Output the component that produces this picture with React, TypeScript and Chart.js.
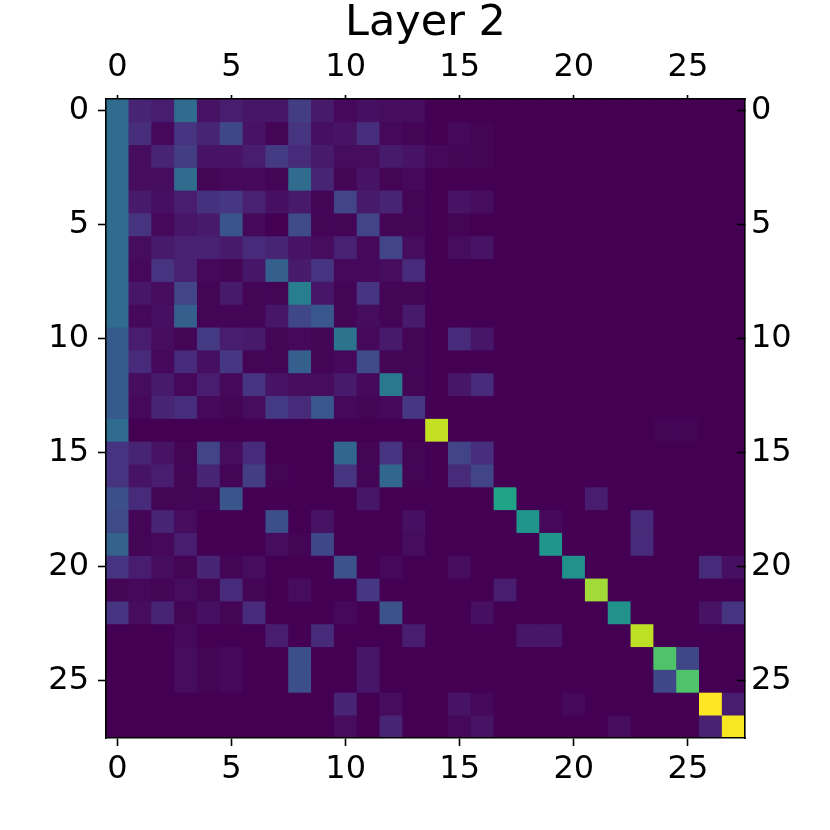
import React, { useEffect, useRef } from 'react';
import { Chart, registerables } from 'chart.js';

Chart.register(...registerables);

const titleText = 'Layer 2';
const tickValues = [0, 5, 10, 15, 20, 25];
const positions = Array.from({ length: 28 }, (_, i) => i);

// attention weights (normalised 0..1 colour position), one array per query row
const row00 = [0.35, 0.1, 0.08, 0.35, 0.05, 0.08, 0.06, 0.06, 0.18, 0.07, 0.02, 0.04, 0.03, 0.03, 0, 0, 0, 0, 0, 0, 0, 0, 0, 0, 0, 0, 0, 0];
const row01 = [0.35, 0.13, 0.02, 0.15, 0.1, 0.21, 0.05, 0.01, 0.15, 0.04, 0.05, 0.13, 0.02, 0.01, 0, 0.02, 0.01, 0, 0, 0, 0, 0, 0, 0, 0, 0, 0, 0];
const row02 = [0.35, 0.03, 0.1, 0.18, 0.05, 0.05, 0.08, 0.17, 0.12, 0.07, 0.03, 0.03, 0.07, 0.05, 0.02, 0.01, 0.01, 0, 0, 0, 0, 0, 0, 0, 0, 0, 0, 0];
const row03 = [0.35, 0.03, 0.03, 0.35, 0.01, 0.02, 0.02, 0.01, 0.35, 0.1, 0.01, 0.05, 0.01, 0.02, 0, 0, 0, 0, 0, 0, 0, 0, 0, 0, 0, 0, 0, 0];
const row04 = [0.35, 0.07, 0.04, 0.08, 0.14, 0.16, 0.09, 0.04, 0.07, 0.01, 0.2, 0.07, 0.1, 0.01, 0, 0.05, 0.03, 0, 0, 0, 0, 0, 0, 0, 0, 0, 0, 0];
const row05 = [0.35, 0.15, 0.02, 0.06, 0.07, 0.26, 0.02, 0, 0.22, 0.01, 0.01, 0.2, 0.01, 0.01, 0, 0.01, 0, 0, 0, 0, 0, 0, 0, 0, 0, 0, 0, 0];
const row06 = [0.35, 0.03, 0.07, 0.09, 0.09, 0.07, 0.12, 0.1, 0.05, 0.03, 0.09, 0.02, 0.2, 0.03, 0, 0.03, 0.05, 0, 0, 0, 0, 0, 0, 0, 0, 0, 0, 0];
const row07 = [0.35, 0.02, 0.15, 0.09, 0.02, 0.01, 0.06, 0.3, 0.07, 0.15, 0.02, 0.02, 0.03, 0.12, 0, 0, 0, 0, 0, 0, 0, 0, 0, 0, 0, 0, 0, 0];
const row08 = [0.35, 0.06, 0.03, 0.2, 0.01, 0.07, 0.01, 0.01, 0.42, 0.06, 0.01, 0.15, 0.01, 0.01, 0, 0, 0, 0, 0, 0, 0, 0, 0, 0, 0, 0, 0, 0];
const row09 = [0.35, 0.02, 0.04, 0.3, 0.01, 0.01, 0.01, 0.06, 0.21, 0.27, 0.01, 0.03, 0.01, 0.07, 0, 0, 0, 0, 0, 0, 0, 0, 0, 0, 0, 0, 0, 0];
const row10 = [0.28, 0.08, 0.03, 0.01, 0.17, 0.08, 0.07, 0.01, 0.02, 0.01, 0.38, 0.02, 0.07, 0.01, 0, 0.12, 0.06, 0, 0, 0, 0, 0, 0, 0, 0, 0, 0, 0];
const row11 = [0.28, 0.12, 0.02, 0.12, 0.04, 0.16, 0.01, 0.01, 0.3, 0.01, 0.02, 0.22, 0.01, 0.01, 0, 0, 0, 0, 0, 0, 0, 0, 0, 0, 0, 0, 0, 0];
const row12 = [0.28, 0.03, 0.07, 0.02, 0.08, 0.02, 0.15, 0.05, 0.03, 0.03, 0.07, 0.02, 0.4, 0.01, 0, 0.06, 0.12, 0, 0, 0, 0, 0, 0, 0, 0, 0, 0, 0];
const row13 = [0.28, 0.02, 0.1, 0.13, 0.02, 0.01, 0.03, 0.17, 0.12, 0.27, 0.02, 0.01, 0.02, 0.16, 0, 0, 0, 0, 0, 0, 0, 0, 0, 0, 0, 0, 0, 0];
const row14 = [0.35, 0, 0, 0, 0, 0, 0, 0, 0, 0, 0, 0, 0, 0, 0.91, 0, 0, 0, 0, 0, 0, 0, 0, 0, 0.01, 0.01, 0, 0];
const row15 = [0.15, 0.1, 0.05, 0.01, 0.2, 0.03, 0.12, 0, 0, 0, 0.33, 0.01, 0.15, 0.01, 0, 0.2, 0.13, 0, 0, 0, 0, 0, 0, 0, 0, 0, 0, 0];
const row16 = [0.15, 0.05, 0.08, 0.01, 0.1, 0.01, 0.18, 0.01, 0, 0, 0.15, 0.01, 0.33, 0.01, 0, 0.12, 0.2, 0, 0, 0, 0, 0, 0, 0, 0, 0, 0, 0];
const row17 = [0.24, 0.12, 0.01, 0.01, 0.01, 0.26, 0, 0, 0, 0, 0, 0.06, 0, 0, 0, 0, 0, 0.58, 0, 0, 0, 0.08, 0, 0, 0, 0, 0, 0];
const row18 = [0.22, 0.01, 0.1, 0.03, 0, 0, 0, 0.24, 0, 0.05, 0, 0, 0, 0.04, 0, 0, 0, 0, 0.52, 0.02, 0, 0, 0, 0.12, 0, 0, 0, 0];
const row19 = [0.31, 0.01, 0.02, 0.08, 0, 0, 0, 0.03, 0.01, 0.21, 0, 0, 0, 0.03, 0, 0, 0, 0, 0, 0.52, 0, 0, 0, 0.12, 0, 0, 0, 0];
const row20 = [0.15, 0.08, 0.03, 0.01, 0.1, 0.01, 0.03, 0, 0, 0, 0.25, 0, 0.02, 0, 0, 0.03, 0, 0, 0, 0, 0.5, 0, 0, 0, 0, 0, 0.12, 0.04];
const row21 = [0.01, 0.02, 0.01, 0.03, 0.01, 0.12, 0.01, 0, 0.03, 0, 0, 0.16, 0, 0, 0, 0, 0, 0.08, 0, 0, 0, 0.86, 0, 0, 0, 0, 0, 0];
const row22 = [0.15, 0.03, 0.1, 0.01, 0.04, 0.01, 0.12, 0, 0, 0, 0.02, 0, 0.25, 0, 0, 0, 0.04, 0, 0, 0, 0, 0, 0.5, 0, 0, 0, 0.05, 0.15];
const row23 = [0, 0, 0, 0.02, 0, 0, 0, 0.08, 0, 0.12, 0, 0, 0, 0.08, 0, 0, 0, 0, 0.06, 0.06, 0, 0, 0, 0.9, 0, 0, 0, 0];
const row24 = [0, 0, 0, 0.03, 0.01, 0.02, 0, 0, 0.24, 0, 0, 0.06, 0, 0, 0, 0, 0, 0, 0, 0, 0, 0, 0, 0, 0.72, 0.21, 0, 0];
const row25 = [0, 0, 0, 0.03, 0.01, 0.02, 0, 0, 0.24, 0, 0, 0.06, 0, 0, 0, 0, 0, 0, 0, 0, 0, 0, 0, 0, 0.21, 0.72, 0, 0];
const row26 = [0, 0, 0, 0, 0, 0, 0, 0, 0, 0, 0.1, 0, 0.03, 0, 0, 0.05, 0.02, 0, 0, 0, 0.02, 0, 0, 0, 0, 0, 1.0, 0.08];
const row27 = [0, 0, 0, 0, 0, 0, 0, 0, 0, 0, 0.03, 0, 0.1, 0, 0, 0.02, 0.05, 0, 0, 0, 0, 0, 0.03, 0, 0, 0, 0.09, 0.99];

const weights = [
  row00, row01, row02, row03, row04, row05, row06, row07, row08, row09,
  row10, row11, row12, row13, row14, row15, row16, row17, row18, row19,
  row20, row21, row22, row23, row24, row25, row26, row27,
];

const viridisStops = [
  '#440154', '#471365', '#482475', '#463480', '#414487', '#3b528b', '#355f8d',
  '#2f6c8e', '#2a788e', '#25848e', '#21918c', '#1e9c89', '#22a884', '#2fb47c',
  '#44bf70', '#5ec962', '#7ad151', '#9bd93c', '#bddf26', '#dfe318', '#fde725',
];

function hexToRgb(h: string) {
  return [parseInt(h.slice(1, 3), 16), parseInt(h.slice(3, 5), 16), parseInt(h.slice(5, 7), 16)];
}

function viridis(t: number) {
  const v = Math.max(0, Math.min(1, t)) * (viridisStops.length - 1);
  const i = Math.min(Math.floor(v), viridisStops.length - 2);
  const f = v - i;
  const a = hexToRgb(viridisStops[i]);
  const b = hexToRgb(viridisStops[i + 1]);
  const c = a.map((x, k) => Math.round(x + (b[k] - x) * f));
  return `rgb(${c[0]},${c[1]},${c[2]})`;
}

const FONT = 'DejaVu Sans';

function makeScale(opts: {
  position: string;
  reverse?: boolean;
  tickLength: number;
  padding: number;
  fixed: number;
}) {
  const horizontal = opts.position === 'top' || opts.position === 'bottom';
  return {
    type: 'linear',
    position: opts.position,
    min: -0.5,
    max: 27.5,
    offset: false,
    reverse: !!opts.reverse,
    afterBuildTicks: (scale: any) => {
      scale.ticks = tickValues.map((v) => ({ value: v }));
    },
    afterFit: (scale: any) => {
      if (horizontal) scale.height = opts.fixed;
      else scale.width = opts.fixed;
    },
    ticks: {
      autoSkip: false,
      maxRotation: 0,
      minRotation: 0,
      padding: opts.padding,
      color: '#000',
      font: { family: FONT, size: 32, lineHeight: 1.2 },
      callback: (v: any) => String(v),
    },
    grid: {
      display: true,
      offset: false,
      drawOnChartArea: false,
      drawTicks: true,
      tickLength: opts.tickLength,
      tickWidth: 1.6,
      tickColor: '#000',
      color: '#000',
      z: 1,
    },
    border: { display: true, color: '#000', width: 1.6, z: 1 },
  };
}

const backgroundPlugin = {
  id: 'matrixBackground',
  beforeDatasetsDraw(chart: any) {
    const { ctx, chartArea } = chart;
    ctx.save();
    ctx.fillStyle = viridis(0);
    ctx.fillRect(chartArea.left, chartArea.top, chartArea.right - chartArea.left, chartArea.bottom - chartArea.top);
    ctx.restore();
  },
};

export default function App() {
  const canvasRef = useRef<HTMLCanvasElement>(null);

  useEffect(() => {
    if (!canvasRef.current) return;
    const datasets = weights.map((row, r) => ({
      label: `row ${r}`,
      data: positions.map((c) => ({ x: c, y: [r - 0.5, r + 0.5] })),
      backgroundColor: row.map((v) => viridis(v)),
      borderWidth: 0,
      grouped: false,
      barPercentage: 1,
      categoryPercentage: 1,
      xAxisID: 'x',
      yAxisID: 'y',
    }));

    const chart = new Chart(canvasRef.current, {
      type: 'bar',
      data: { datasets } as any,
      plugins: [backgroundPlugin],
      options: {
        responsive: false,
        animation: false,
        layout: { padding: 0 },
        plugins: {
          legend: { display: false },
          tooltip: { enabled: false },
          title: {
            display: true,
            text: titleText,
            fullSize: false,
            color: '#000',
            font: { family: FONT, size: 43, weight: 'normal', lineHeight: 1 },
            padding: { top: 2, bottom: 0 },
          },
        },
        scales: {
          x: makeScale({ position: 'bottom', tickLength: 8, padding: 4, fixed: 92 }),
          x2: makeScale({ position: 'top', tickLength: 4, padding: 8, fixed: 54 }),
          y: makeScale({ position: 'left', reverse: true, tickLength: 8, padding: 9, fixed: 106 }),
          y2: makeScale({ position: 'right', reverse: true, tickLength: -8, padding: 14, fixed: 85 }),
        } as any,
      } as any,
    });
    return () => chart.destroy();
  }, []);

  return (
    <div style={{ position: 'absolute', left: 0, top: 0, width: 830, height: 830, background: '#fff' }}>
      <canvas ref={canvasRef} width={830} height={830} style={{ display: 'block' }} />
    </div>
  );
}
